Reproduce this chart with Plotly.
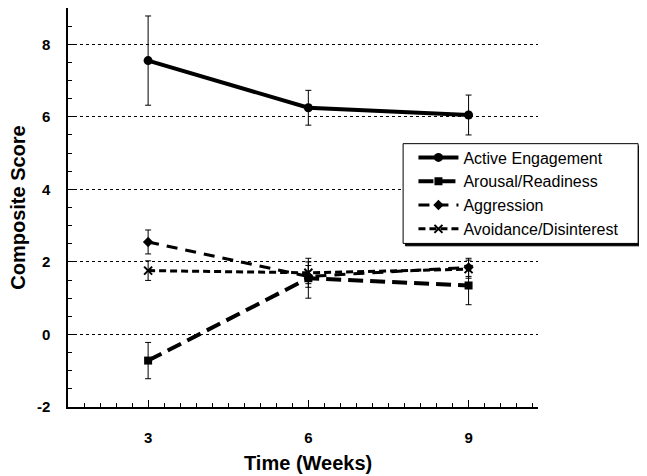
import plotly.graph_objects as go

weeks = [3, 6, 9]
series_names = ["Active Engagement", "Arousal/Readiness", "Aggression", "Avoidance/Disinterest"]
active_mean = [7.55, 6.25, 6.05]
active_err = [1.23, 0.48, 0.55]
arousal_mean = [-0.72, 1.55, 1.35]
arousal_err = [0.5, 0.55, 0.53]
aggression_mean = [2.55, 1.6, 1.85]
aggression_err = [0.33, 0.3, 0.25]
avoidance_mean = [1.76, 1.7, 1.8]
avoidance_err = [0.27, 0.3, 0.25]

y_ticks = [-2, 0, 2, 4, 6, 8]
x_ticks = [3, 6, 9]

FONT = "Liberation Sans, Arial, Helvetica, sans-serif"

styles = [
    dict(dash="solid", width=4, symbol="circle", size=9, lw=0),
    dict(dash="15px,7px", width=4, symbol="square", size=8, lw=0),
    dict(dash="11px,8px", width=3, symbol="diamond", size=8, lw=0),
    dict(dash="7px,4px", width=3, symbol="x-thin-open", size=8, lw=2),
]
means = [active_mean, arousal_mean, aggression_mean, avoidance_mean]
errs = [active_err, arousal_err, aggression_err, avoidance_err]

fig = go.Figure()
for name, m, e, st in zip(series_names, means, errs, styles):
    fig.add_trace(go.Scatter(
        x=weeks, y=m, name=name, mode="lines+markers",
        line=dict(color="black", width=st["width"], dash=st["dash"]),
        marker=dict(color="black", symbol=st["symbol"], size=st["size"],
                    line=dict(color="black", width=st["lw"])),
        error_y=dict(type="data", array=e, visible=True, color="black",
                     thickness=1, width=3),
    ))

# legend box with shadow
lx0, lx1, ly0, ly1 = 0.713, 1.213, 0.41, 0.66
fig.add_shape(type="rect", xref="paper", yref="paper",
              x0=lx0 + 0.005, x1=lx1 + 0.005, y0=ly0 - 0.006, y1=ly1 - 0.006,
              line=dict(color="black", width=1), fillcolor="black", layer="above")
fig.add_shape(type="rect", xref="paper", yref="paper",
              x0=lx0, x1=lx1, y0=ly0, y1=ly1,
              line=dict(color="black", width=1), fillcolor="white", layer="above")

# page body has an 8px default margin: size the figure to fit the window
fig.update_layout(
    width=639, height=468,
    margin=dict(l=60, r=109, t=0, b=69, autoexpand=False),
    paper_bgcolor="white", plot_bgcolor="white",
    font=dict(family=FONT, color="black"),
    showlegend=True,
    legend=dict(x=0.735, y=(ly0 + ly1) / 2, xanchor="left", yanchor="middle",
                bgcolor="rgba(0,0,0,0)", borderwidth=0,
                font=dict(family=FONT, size=16, color="black"),
                tracegroupgap=0, itemwidth=40),
    xaxis=dict(range=[1.5, 10.3], tickmode="array", tickvals=x_ticks,
               ticktext=[str(v) for v in x_ticks],
               showline=True, linecolor="black", linewidth=1.5,
               ticks="inside", ticklen=7, tickcolor="black", tickwidth=1,
               minor=dict(ticks="inside", ticklen=4, tickmode="linear", tick0=0, dtick=0.3,
                          tickcolor="black", showgrid=False),
               showgrid=False, zeroline=False,
               tickfont=dict(family=FONT, size=15, weight="bold"),
               ticklabelstandoff=16),
    yaxis=dict(range=[-2, 9], tickmode="array", tickvals=y_ticks,
               ticktext=[str(v) for v in y_ticks],
               showline=True, linecolor="black", linewidth=1.5,
               ticks="inside", ticklen=7, tickcolor="black", tickwidth=1,
               minor=dict(ticks="inside", ticklen=4, tickmode="linear", tick0=0, dtick=0.5,
                          tickcolor="black", showgrid=False),
               showgrid=True, gridcolor="black", gridwidth=1, griddash="dot",
               zeroline=False,
               tickfont=dict(family=FONT, size=15, weight="bold"),
               ticklabelstandoff=13),
    annotations=[
        dict(text="<b>Composite Score</b>", xref="paper", yref="paper",
             x=-0.108, y=0.5, xanchor="center", yanchor="middle", textangle=-90,
             showarrow=False, font=dict(family=FONT, size=20)),
        dict(text="<b>Time (Weeks)</b>", xref="paper", yref="paper",
             x=0.51, y=-0.14, xanchor="center", yanchor="middle",
             showarrow=False, font=dict(family=FONT, size=20)),
    ],
)

fig.write_html("out.html")
